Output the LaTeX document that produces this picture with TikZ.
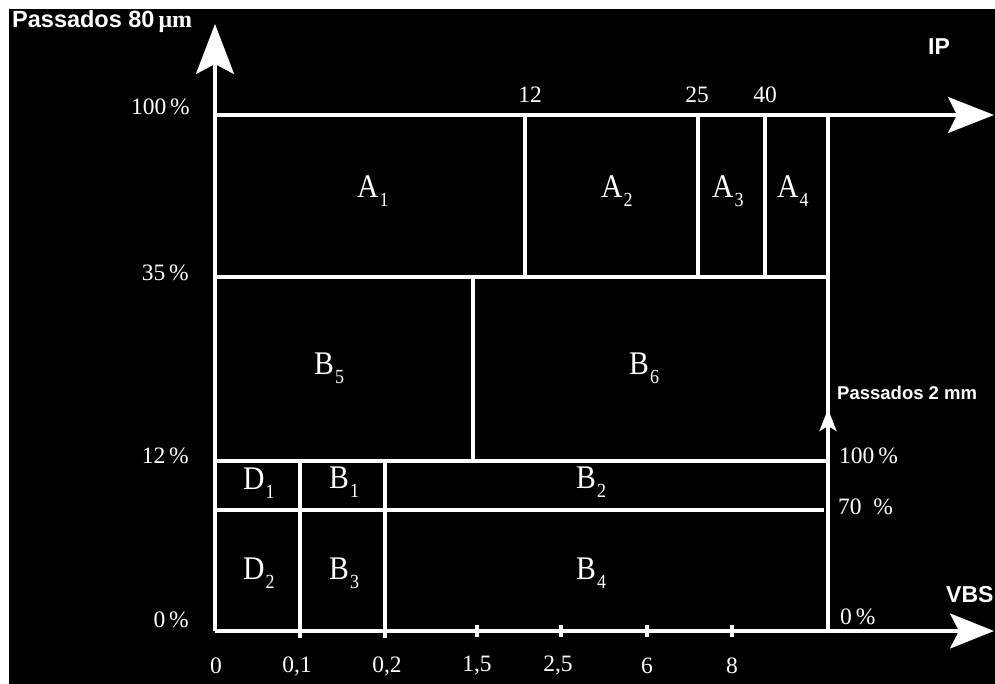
\documentclass[tikz,border=0pt]{standalone}
\usepackage{fontspec}
\setmainfont{Liberation Serif}
\newfontfamily\sansf{Liberation Sans}
\newfontfamily\lblf[FakeStretch=0.9]{Liberation Serif}
\usetikzlibrary{arrows.meta}
\newcommand\rg[2]{{\lblf\fontsize{33}{33}\selectfont #1\kern1pt\raisebox{-9pt}{\fontsize{20}{20}\selectfont #2}}}
\begin{document}
\begin{tikzpicture}[x=1pt,y=-1pt,
  ln/.style={draw=white,line width=3.2pt},
  bigarrow/.style={ln,-{Stealth[length=46pt,width=36pt,inset=9pt]}},
  smallarrow/.style={ln,-{Stealth[length=22pt,width=17pt,inset=5pt]}},
  tk/.style={text=white,inner sep=0pt,font=\fontsize{23.5}{23.5}\selectfont},
  rl/.style={text=white,inner sep=0pt,anchor=base west},
  sl/.style={text=white,inner sep=0pt,font=\sansf\bfseries}]
\useasboundingbox (0,0) rectangle (995,684);
\fill[white] (0,0) rectangle (995,684);
\fill[black] (9,9) rectangle (995,684);
% coordinates
\coordinate (O) at (215,631);
\coordinate (Ytop) at (215,24);
\coordinate (Xend) at (994,631);
\coordinate (T0) at (215,115);
\coordinate (Tend) at (994,115);
\coordinate (R0) at (828,631);
\coordinate (Rtop) at (828,409);
% box lines
\draw[ln] (828,115) -- (828,461);
\draw[ln] (215,277) -- (828,277);
\draw[ln] (215,461) -- (826,461);
\draw[ln] (215,510) -- (824,510);
\draw[ln] (525,115) -- (525,277);
\draw[ln] (698,115) -- (698,277);
\draw[ln] (765,115) -- (765,277);
\draw[ln] (473,277) -- (473,461);
\draw[ln] (300,461) -- (300,638);
\draw[ln] (385,461) -- (385,638);
% ticks
\foreach \x in {477,561,647,732} \draw[ln] (\x,625) -- (\x,637);
% axes
\draw[bigarrow,-{Stealth[length=50pt,width=38pt,inset=10pt]}] (O) -- (Ytop);
\draw[bigarrow] (T0) -- (Tend);
\draw[bigarrow,-{Stealth[length=44pt,width=35pt,inset=9pt]}] (O) -- (Xend);
\draw[smallarrow] (R0) -- (Rtop);
% axis titles
\node[sl,anchor=west,font=\sansf\bfseries\fontsize{23.5}{23.5}\selectfont] (t1) at (12,22) {Passados 80\,{\rmfamily\fontsize{24}{24}\selectfont μm}};
\node[sl,font=\sansf\bfseries\fontsize{23}{23}\selectfont] (t2) at (939,47) {IP};
\node[sl,anchor=west,font=\sansf\bfseries\fontsize{23}{23}\selectfont] (t3) at (946,595) {VBS};
\node[sl,anchor=west,font=\sansf\bfseries\fontsize{18.5}{18.5}\selectfont] (t4) at (837,393) {Passados 2 mm};
% left labels
\node[tk,anchor=east] (l100) at (190,107) {100\,\%};
\node[tk,anchor=east] (l35) at (189,273) {35\,\%};
\node[tk,anchor=east] (l12) at (189,456) {12\,\%};
\node[tk,anchor=east] (l0) at (189,620) {0\,\%};
% right labels
\node[tk,anchor=west] (r100) at (839,456) {100\,\%};
\node[tk,anchor=west] (r70) at (838,507) {70\ \ \%};
\node[tk,anchor=west] (r0) at (840,617) {0\,\%};
% top labels
\node[tk] (u12) at (530,95) {12};
\node[tk] (u25) at (697,95) {25};
\node[tk] (u40) at (765,95) {40};
% bottom labels
\node[tk] (b0) at (216,666) {0};
\node[tk] (b01) at (297,666) {0,1};
\node[tk] (b02) at (387,666) {0,2};
\node[tk] (b15) at (477,666) {1,5};
\node[tk] (b25) at (558,666) {2,5};
\node[tk] (b6) at (647,666) {6};
\node[tk] (b8) at (732,666) {8};
% region labels
\node[rl] (A1) at (357,198) {\rg{A}{1}};
\node[rl] (A2) at (601,198) {\rg{A}{2}};
\node[rl] (A3) at (712,198) {\rg{A}{3}};
\node[rl] (A4) at (777,198) {\rg{A}{4}};
\node[rl] (B5) at (314,374) {\rg{B}{5}};
\node[rl] (B6) at (629,374) {\rg{B}{6}};
\node[rl] (D1) at (243,489) {\rg{D}{1}};
\node[rl] (B1) at (329,488) {\rg{B}{1}};
\node[rl] (B2) at (576,488) {\rg{B}{2}};
\node[rl] (D2) at (243,579) {\rg{D}{2}};
\node[rl] (B3) at (329,579) {\rg{B}{3}};
\node[rl] (B4) at (576,579) {\rg{B}{4}};
\end{tikzpicture}
\end{document}
